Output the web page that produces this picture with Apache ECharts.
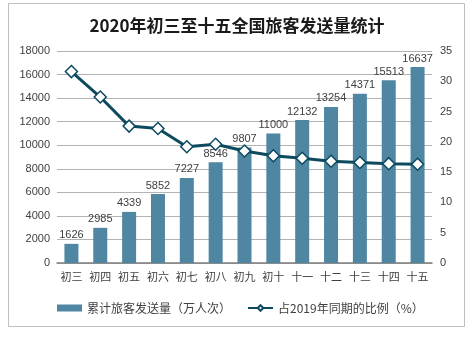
<!DOCTYPE html>
<html><head><meta charset="utf-8">
<script src="https://cdn.jsdelivr.net/npm/echarts@6/dist/echarts.min.js"></script>
<style>html,body{margin:0;padding:0;background:#fff}#c{width:474px;height:341px}</style>
</head><body><div id="c"></div>
<script>
const categories = ['初三','初四','初五','初六','初七','初八','初九','初十','十一','十二','十三','十四','十五'];
const passengers = [1626, 2985, 4339, 5852, 7227, 8546, 9807, 11000, 12132, 13254, 14371, 15513, 16637];
const ratio2019 = [31.6, 27.4, 22.6, 22.2, 19.2, 19.6, 18.5, 17.7, 17.3, 16.8, 16.6, 16.4, 16.3];
const titleText = '2020年初三至十五全国旅客发送量统计';
const barName = '累计旅客发送量（万人次）';
const lineName = '占2019年同期的比例（%）';

const font = '"Liberation Sans", "Noto Sans CJK SC", sans-serif';
const chart = echarts.init(document.getElementById('c'), null, {renderer:'canvas'});
chart.setOption({
  animation: false,
  textStyle: {fontFamily: font},
  graphic: [{type:'rect', shape:{x:8.5,y:3.5,width:456,height:323}, style:{fill:'none', stroke:'#bfbfbf', lineWidth:1}}],
  title: {text: titleText, left: 'center', top: 12,
    textStyle: {fontSize: 17, fontWeight: 'bold', color: '#1a1a1a', fontFamily: '"Noto Sans CJK SC", sans-serif'}},
  legend: {left: 52, top: 297, itemGap: 16, itemWidth: 25, itemHeight: 7,
    textStyle: {fontSize: 12, color: '#404040', fontFamily: '"Noto Sans CJK SC", sans-serif'},
    data: [{name: barName, icon: 'rect'}, {name: lineName}]},
  grid: {left: 57, right: 42, top: 51, bottom: 78, containLabel: false},
  xAxis: {type: 'category', data: categories,
    axisLine: {lineStyle: {color: '#7f7f7f', width: 1.5}}, axisTick: {show: false},
    axisLabel: {fontSize: 11, color: '#404040', margin: 8, fontFamily: '"Noto Sans CJK SC", sans-serif'}},
  yAxis: [
    {type: 'value', min: 0, max: 18000, interval: 2000,
      axisLine: {show: false}, axisTick: {show: false},
      axisLabel: {fontSize: 11, color: '#404040', margin: 7, formatter: v => String(v)},
      splitLine: {lineStyle: {color: '#b3b3b3'}}},
    {type: 'value', min: 0, max: 35, interval: 5, position: 'right',
      axisLine: {show: false}, axisTick: {show: false},
      axisLabel: {fontSize: 11, color: '#404040', margin: 8},
      splitLine: {show: false}}
  ],
  series: [
    {name: barName, type: 'bar', data: passengers, barWidth: 14, yAxisIndex: 0,
      itemStyle: {color: '#4f86a1'},
      label: {show: true, position: 'top', fontSize: 11, color: '#404040', distance: 3}},
    {name: lineName, type: 'line', data: ratio2019, yAxisIndex: 1,
      lineStyle: {color: '#0d4a5f', width: 3},
      symbol: 'diamond', symbolSize: 12,
      itemStyle: {color: '#ffffff', borderColor: '#0d4a5f', borderWidth: 1.5}}
  ]
});
</script></body></html>
